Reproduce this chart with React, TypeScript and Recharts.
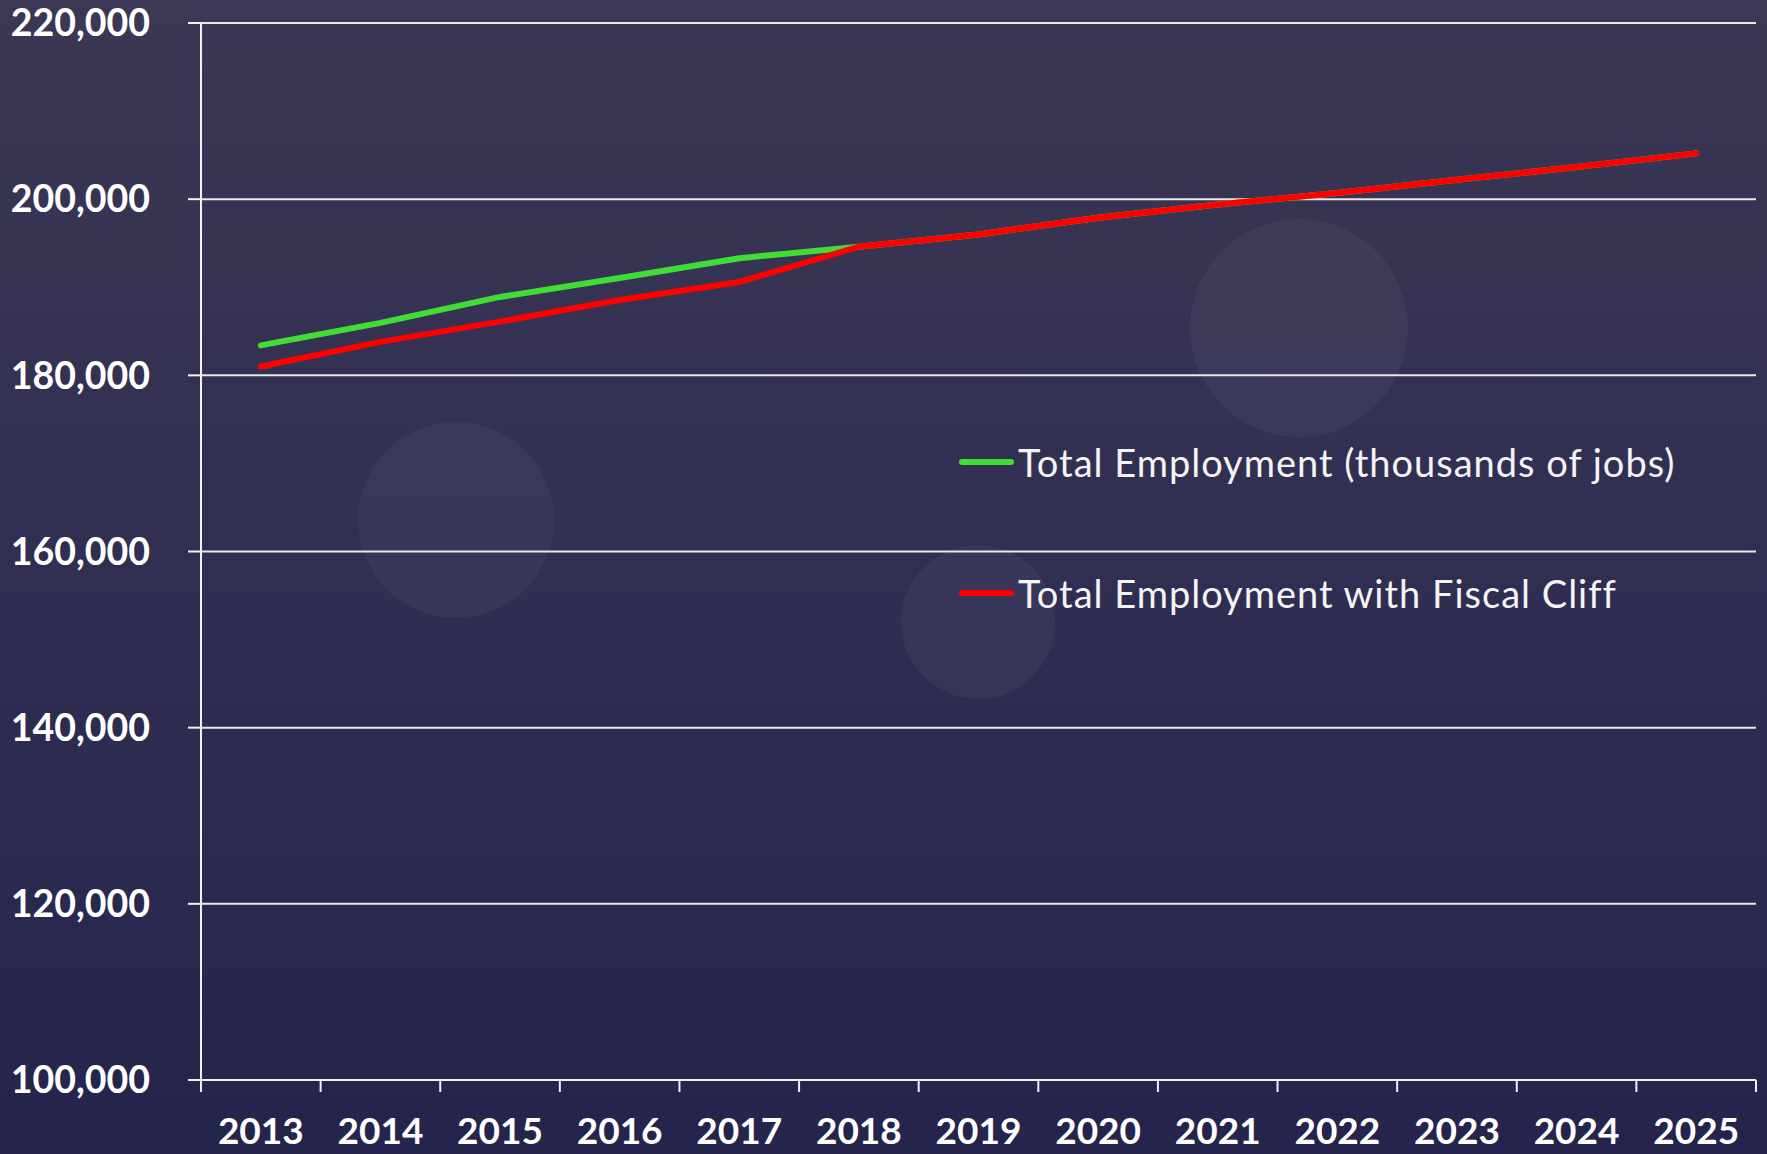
import React from 'react';
import { LineChart, Line, XAxis, YAxis, CartesianGrid, Legend } from 'recharts';

const years = ['2013', '2014', '2015', '2016', '2017', '2018', '2019', '2020', '2021', '2022', '2023', '2024', '2025'];
const totalEmployment = [183400, 185950, 188900, 191050, 193300, 194600, 196000, 197900, 199400, 200700, 202200, 203650, 205200];
const withFiscalCliff = [181000, 183800, 186100, 188550, 190600, 194600, 196000, 197900, 199400, 200700, 202200, 203650, 205200];
const yTicks = [100000, 120000, 140000, 160000, 180000, 200000, 220000];
const seriesNames = ['Total Employment (thousands of jobs)', 'Total Employment with Fiscal Cliff'];

const data = years.map((year, i) => ({ year, total: totalEmployment[i], cliff: withFiscalCliff[i] }));

const W = 1767;
const H = 1154;
const LEFT = 201;
const RIGHT = 11;
const BAND = (W - LEFT - RIGHT) / years.length;
const FONT = 'Lato, "Open Sans", sans-serif';

const XTick = (props: any) => {
  const { x, y, payload, index } = props;
  const half = BAND / 2;
  return (
    <g>
      <line x1={x - half} x2={x - half} y1={y} y2={y + 12} stroke="#f2f2f2" strokeWidth={2} />
      {index === years.length - 1 && (
        <line x1={x + half} x2={x + half} y1={y} y2={y + 12} stroke="#f2f2f2" strokeWidth={2} />
      )}
      <text x={x} y={y + 64} textAnchor="middle" fill="#ffffff" fontFamily={FONT} fontWeight={700} fontSize={37}>
        {payload.value}
      </text>
    </g>
  );
};

const fmt = (v: number) => v.toLocaleString('en-US');

const renderLegend = (props: any) => (
  <div>
    {(props.payload || []).map((e: any) => (
      <div key={e.value} style={{ height: 131, display: 'flex', alignItems: 'center' }}>
        <span style={{ display: 'inline-block', width: 55, height: 6, background: e.color, borderRadius: 3, marginRight: 4 }} />
        <span style={{ color: '#f4f4f4', fontFamily: FONT, fontSize: 38, letterSpacing: 1, whiteSpace: 'nowrap' }}>{e.value}</span>
      </div>
    ))}
  </div>
);

const circles = [
  { cx: 456, cy: 520, r: 98 },
  { cx: 1299, cy: 328, r: 109 },
  { cx: 978, cy: 622, r: 77 },
];

export default function App() {
  return (
    <div
      style={{
        position: 'absolute',
        left: 0,
        top: 0,
        width: W,
        height: H,
        overflow: 'hidden',
        background: 'linear-gradient(180deg, #3b3754 0%, #312f52 45%, #24244c 100%)',
      }}
    >
      {circles.map((c, i) => (
        <div
          key={i}
          style={{
            position: 'absolute',
            left: c.cx - c.r,
            top: c.cy - c.r,
            width: c.r * 2,
            height: c.r * 2,
            borderRadius: '50%',
            background: 'rgba(255,255,255,0.045)',
          }}
        />
      ))}
      <div style={{ position: 'absolute', left: 0, top: 0 }}>
        <LineChart width={W} height={H} data={data} margin={{ top: 23, right: RIGHT, left: 0, bottom: 0 }}>
          <CartesianGrid horizontal vertical={false} stroke="#e8e8e8" strokeWidth={2} />
          <XAxis
            dataKey="year"
            scale="band"
            interval={0}
            height={74}
            tickSize={0}
            tickMargin={0}
            tickLine={false}
            axisLine={{ stroke: '#f2f2f2', strokeWidth: 2 }}
            tick={<XTick />}
          />
          <YAxis
            domain={[100000, 220000]}
            ticks={yTicks}
            width={LEFT}
            interval={0}
            tickSize={13}
            tickMargin={38}
            tickFormatter={fmt}
            tickLine={{ stroke: '#f2f2f2', strokeWidth: 2 }}
            axisLine={{ stroke: '#f2f2f2', strokeWidth: 2 }}
            tick={{ fill: '#ffffff', fontSize: 37.5, fontWeight: 700, fontFamily: FONT }}
          />
          <Legend
            layout="vertical"
            align="center"
            verticalAlign="middle"
            content={renderLegend}
            wrapperStyle={{ left: 959, top: 396, width: 780 }}
          />
          <Line
            type="linear"
            dataKey="total"
            name={seriesNames[0]}
            stroke="#41dd35"
            strokeWidth={6}
            strokeLinecap="round"
            dot={false}
            activeDot={false}
            isAnimationActive={false}
          />
          <Line
            type="linear"
            dataKey="cliff"
            name={seriesNames[1]}
            stroke="#ff0000"
            strokeWidth={6}
            strokeLinecap="round"
            dot={false}
            activeDot={false}
            isAnimationActive={false}
          />
        </LineChart>
      </div>
    </div>
  );
}
